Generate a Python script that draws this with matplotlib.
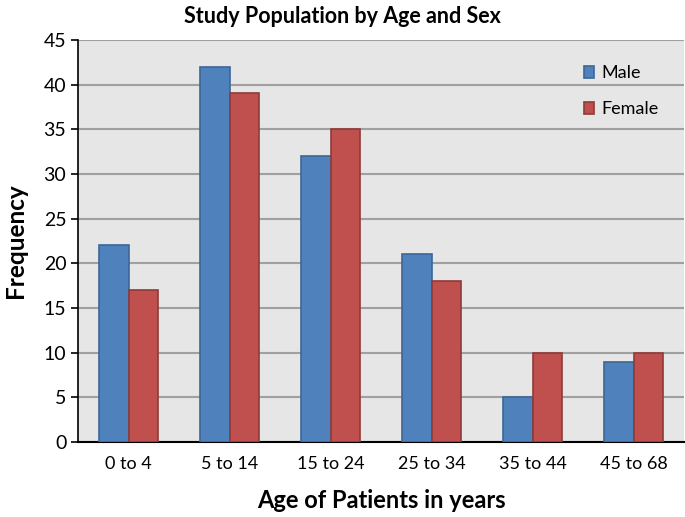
from matplotlib import pyplot as plt
import numpy as np

# data
ageGroups = ['0 to 4', '5 to 14', '15 to 24', '25 to 34', '35 to 44', '45 to 68']
male = [22, 42, 32, 21, 5, 9]
female = [17, 39, 35, 18, 10, 10]

plt.rcParams['font.family'] = ['Lato', 'DejaVu Sans']

fig = plt.figure(figsize=(6.85, 5.17), dpi=100)
ax = fig.add_axes([0.114, 0.145, 0.885, 0.778])

x = np.arange(len(ageGroups))
w = 0.29
ax.bar(x - w/2, male, w, color='#4F81BD', edgecolor='#3B6696', linewidth=1.2, label='Male', zorder=3)
ax.bar(x + w/2, female, w, color='#C0504D', edgecolor='#8E3B39', linewidth=1.2, label='Female', zorder=3)

ax.set_facecolor('#E6E6E6')
ax.set_xlim(-0.5, len(ageGroups) - 0.5)
ax.set_ylim(0, 45)
ax.set_yticks(range(0, 46, 5))
ax.yaxis.grid(True, color='#A0A0A0', linewidth=1.5, zorder=0)
ax.set_xticks(x)
ax.set_xticklabels(ageGroups)
ax.tick_params(axis='x', length=0, labelsize=13, pad=10)
ax.tick_params(axis='y', length=5, width=1.2, labelsize=14, direction='out')
for s in ['top', 'right']:
    ax.spines[s].set_visible(False)
ax.spines['left'].set_linewidth(1.2)
ax.spines['bottom'].set_linewidth(1.5)

fig.text(0.5, 0.968, 'Study Population by Age and Sex', fontsize=15.5, fontweight='bold',
         ha='center', va='center')
ax.set_xlabel('Age of Patients in years', fontsize=17, fontweight='bold', labelpad=12)
ax.set_ylabel('Frequency', fontsize=17.5, fontweight='bold', labelpad=12)

ax.legend(loc='upper right', bbox_to_anchor=(0.985, 0.977), frameon=False, fontsize=13,
          handlelength=0.6, handleheight=0.6, handletextpad=0.4, labelspacing=1.1)

fig.savefig('out.png', dpi=100)
